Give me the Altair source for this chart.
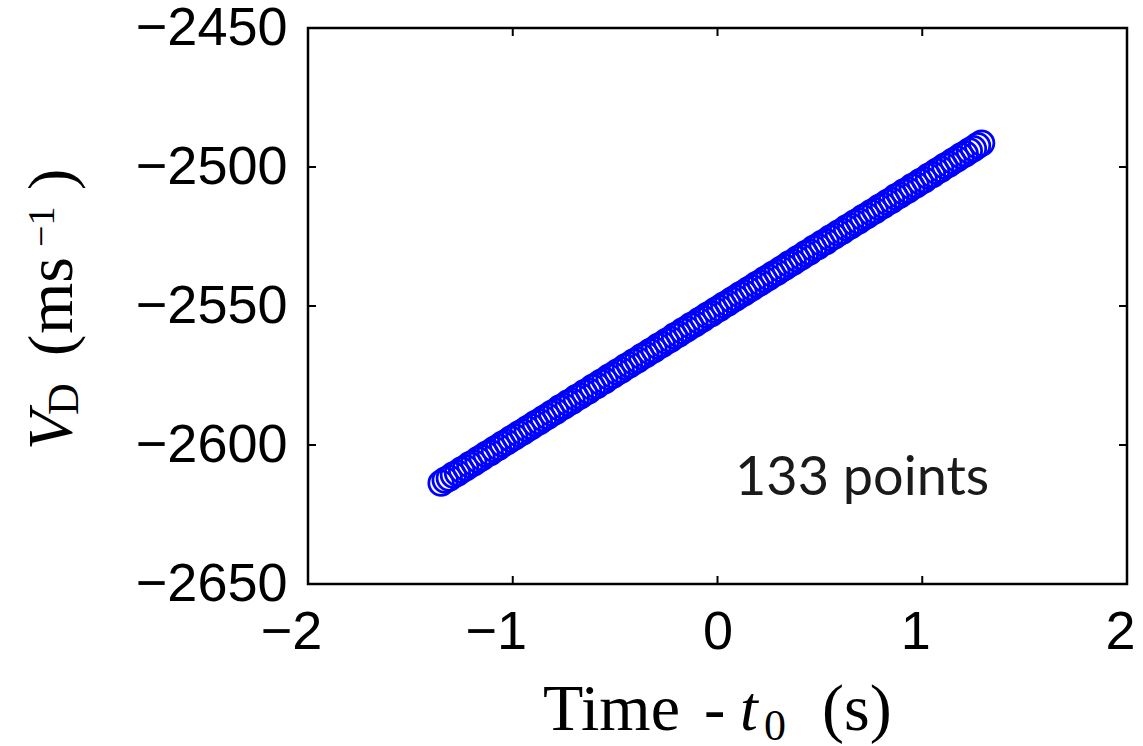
import altair as alt
import pandas as pd

# Time relative to t0 (s) and descent velocity V_D (m/s)
time_s = [
    -1.35, -1.33, -1.31, -1.29, -1.27, -1.25, -1.23, -1.21, -1.19, -1.17,
    -1.15, -1.13, -1.11, -1.09, -1.07, -1.05, -1.03, -1.01, -0.99, -0.97,
    -0.95, -0.93, -0.91, -0.89, -0.87, -0.85, -0.83, -0.81, -0.79, -0.77,
    -0.75, -0.73, -0.71, -0.69, -0.67, -0.65, -0.63, -0.61, -0.59, -0.57,
    -0.55, -0.53, -0.51, -0.49, -0.47, -0.45, -0.43, -0.41, -0.39, -0.37,
    -0.35, -0.33, -0.31, -0.29, -0.27, -0.25, -0.23, -0.21, -0.19, -0.17,
    -0.15, -0.13, -0.11, -0.09, -0.07, -0.05, -0.03, -0.01, 0.01, 0.03,
    0.05, 0.07, 0.09, 0.11, 0.13, 0.15, 0.17, 0.19, 0.21, 0.23,
    0.25, 0.27, 0.29, 0.31, 0.33, 0.35, 0.37, 0.39, 0.41, 0.43,
    0.45, 0.47, 0.49, 0.51, 0.53, 0.55, 0.57, 0.59, 0.61, 0.63,
    0.65, 0.67, 0.69, 0.71, 0.73, 0.75, 0.77, 0.79, 0.81, 0.83,
    0.85, 0.87, 0.89, 0.91, 0.93, 0.95, 0.97, 0.99, 1.01, 1.03,
    1.05, 1.07, 1.09, 1.11, 1.13, 1.15, 1.17, 1.19, 1.21, 1.23,
    1.25, 1.27, 1.29,
]

v_d = [
    -2613.7, -2612.6, -2611.9, -2610.8, -2610.1, -2609.0, -2608.2, -2607.1, -2606.4, -2605.3,
    -2604.5, -2603.4, -2602.7, -2601.6, -2600.8, -2599.7, -2599.0, -2597.9, -2597.1, -2596.0,
    -2595.3, -2594.2, -2593.4, -2592.3, -2591.6, -2590.5, -2589.7, -2588.6, -2587.9, -2586.7,
    -2586.0, -2584.9, -2584.2, -2583.0, -2582.3, -2581.2, -2580.5, -2579.3, -2578.6, -2577.5,
    -2576.8, -2575.6, -2574.9, -2573.8, -2573.1, -2571.9, -2571.2, -2570.1, -2569.4, -2568.2,
    -2567.5, -2566.4, -2565.7, -2564.5, -2563.8, -2562.7, -2562.0, -2560.8, -2560.1, -2559.0,
    -2558.2, -2557.1, -2556.4, -2555.3, -2554.5, -2553.4, -2552.7, -2551.6, -2550.8, -2549.7,
    -2549.0, -2547.9, -2547.1, -2546.0, -2545.3, -2544.2, -2543.4, -2542.3, -2541.6, -2540.5,
    -2539.7, -2538.6, -2537.9, -2536.8, -2536.0, -2534.9, -2534.2, -2533.1, -2532.3, -2531.2,
    -2530.5, -2529.3, -2528.6, -2527.5, -2526.8, -2525.6, -2524.9, -2523.8, -2523.1, -2521.9,
    -2521.2, -2520.1, -2519.4, -2518.2, -2517.5, -2516.4, -2515.7, -2514.5, -2513.8, -2512.7,
    -2512.0, -2510.8, -2510.1, -2509.0, -2508.3, -2507.1, -2506.4, -2505.3, -2504.6, -2503.4,
    -2502.7, -2501.6, -2500.8, -2499.7, -2499.0, -2497.9, -2497.1, -2496.0, -2495.3, -2494.2,
    -2493.4, -2492.3, -2491.4,
]

x_ticks = [-2, -1, 0, 1, 2]
y_ticks = [-2650, -2600, -2550, -2500, -2450]
note_text = "133 points"

W, H = 819, 556
TICK = 8
SANS = "Liberation Sans"
SERIF = "Liberation Serif"

x_scale = alt.Scale(domain=[-2, 2], nice=False, zero=False)
y_scale = alt.Scale(domain=[-2650, -2450], nice=False, zero=False)

x_axis = alt.Axis(
    values=x_ticks, format="d", title=None, grid=False, domain=False,
    ticks=False, labelFont=SANS, labelFontSize=54, labelColor="black",
    labelPadding=21, labelFlush=False, labelOverlap=False,
    labelOffset={"expr": "datum.value < 0 ? -17 : (datum.value > 0 ? -7 : 0)"},
)
y_axis = alt.Axis(
    values=y_ticks, format="d", title=None, grid=False, domain=False,
    ticks=False, labelFont=SANS, labelFontSize=54, labelColor="black",
    labelPadding=21, labelFlush=False, labelOverlap=False,
)

X = lambda: alt.X("t:Q", scale=x_scale, axis=x_axis)
Y = lambda: alt.Y("v:Q", scale=y_scale, axis=y_axis)

points = alt.Chart(pd.DataFrame({"t": time_s, "v": v_d})).mark_point(
    shape="circle", filled=False, size=600, strokeWidth=2.8,
    color="#0000ff", opacity=1,
).encode(x=X(), y=Y())

# Inward tick marks on all four sides of the box
xt = pd.DataFrame({"t": x_ticks})
yt = pd.DataFrame({"v": y_ticks})
tick_style = dict(color="black", strokeWidth=2)
ticks = [
    alt.Chart(xt).mark_rule(**tick_style).encode(x=X(), y=alt.value(H), y2=alt.value(H - TICK)),
    alt.Chart(xt).mark_rule(**tick_style).encode(x=X(), y=alt.value(0), y2=alt.value(TICK)),
    alt.Chart(yt).mark_rule(**tick_style).encode(y=Y(), x=alt.value(0), x2=alt.value(TICK)),
    alt.Chart(yt).mark_rule(**tick_style).encode(y=Y(), x=alt.value(W), x2=alt.value(W - TICK)),
]


def label(text, x, y, size, font=SERIF, style="normal", angle=0, color="black"):
    return alt.Chart(pd.DataFrame({"s": [text]})).mark_text(
        align="left", baseline="alphabetic", font=font, fontSize=size,
        fontStyle=style, angle=angle, color=color,
    ).encode(text="s:N", x=alt.value(x), y=alt.value(y))


# Axis titles assembled from pieces: Time - t_0 (s) and V_D (ms^-1)
titles = [
    label("Time", 235, 702, 66),
    label("-", 396, 702, 64),
    label("t", 432, 702, 64, style="italic"),
    label("0", 456, 712, 44),
    label("(s)", 514, 702, 66),
    label("V", -236, 422, 64, style="italic", angle=270),
    label("D", -230, 387, 44, angle=270),
    label("(", -236, 328, 64, angle=270),
    label("ms", -236, 306, 66, angle=270),
    label("\u22121", -254, 219, 38, angle=270),
    label(")", -236, 162, 64, angle=270),
    label(note_text, 427, 467, 54, font="Lato", color="#1a1a1a"),
]

chart = alt.layer(points, *ticks, *titles).properties(
    width=W, height=H,
    autosize=alt.AutoSizeParams(type="none"),
    padding={"left": 308, "top": 28, "right": 16, "bottom": 162},
).configure(
    background="white",
    view=alt.ViewConfig(stroke="black", strokeWidth=2.5),
)

chart.save("out.html", embed_options={"renderer": "svg", "actions": False})
